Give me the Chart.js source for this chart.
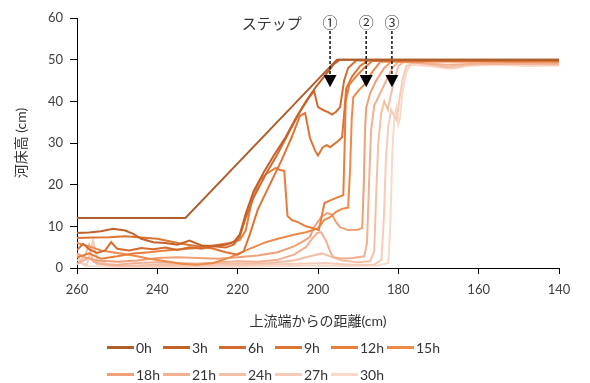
<!DOCTYPE html>
<html>
<head>
<meta charset="utf-8">
<script src="https://cdn.jsdelivr.net/npm/chart.js@4"></script>
<style>
  body { margin: 0; background: #fff; }
  #wrap { position: relative; width: 590px; height: 383px; }
  #legend { position: absolute; left: 107px; top: 334px; font: 14px Lato, 'Noto Sans CJK JP', sans-serif; color: #333; }
  .row { display: flex; height: 27px; align-items: center; }
  .item { display: flex; align-items: center; width: 56px; }
  .item i { display: inline-block; width: 27px; height: 2.5px; margin-right: 2px; }
</style>
</head>
<body>
<div id="wrap">
  <canvas id="bedChart" width="590" height="383"></canvas>
  <div id="legend"></div>
</div>
<script>
// 河床高 (cm) vs 上流端からの距離 (cm), one array per elapsed time
const h0 = [[260,12],[233,12],[195.3,50],[140,50]];
const h3 = [[260,8.4],[257,8.5],[254,8.8],[251,9.4],[248,9],[246,8.2],[244,7],[241,6.2],[238,6],[235,5.6],[232,6.6],[229,5.4],[226,5.3],[223,5.6],[221,6.2],[219.5,8],[218,13],[216,18.5],[213.5,23],[211,27],[208,31.5],[205.5,36],[203,40],[200.5,43.5],[198,46.5],[196,49],[194.5,50],[140,50]];
const h6 = [[260,4.3],[258.5,5.8],[257,4.5],[255,3.6],[253,4.2],[251.5,6.2],[250,4.6],[247,4.2],[244,4.8],[241,4.5],[238,4.9],[235,4.3],[232,5],[229,4.6],[226,5.2],[223,4.9],[221,5.6],[219.5,7.5],[218,12],[216,17],[213,22.5],[210,27.5],[207,33],[204.5,37.5],[202.5,40.5],[201,42.5],[200,38.6],[198.5,37.8],[197.5,37.4],[196.5,36.8],[195.5,37.5],[194.5,38.6],[193.5,45],[192.5,48],[190.5,49.8],[140,49.8]];
const h9 = [[260,7.2],[256,7.3],[252,7.4],[248,7.6],[244,7.3],[240,7],[237,6.4],[234,5.8],[230,5.2],[226,4.6],[223,3.8],[220,3.2],[218.5,4],[217,8],[215,14],[212,20],[209,26],[206.5,31.5],[204.5,36.5],[203.2,37.2],[202,31.2],[200.7,28.1],[200,27],[198.8,29],[197.8,29.5],[197,29],[196.3,29.5],[195,30.5],[194,31.4],[193.4,38],[193,43],[191.5,46],[189.5,48.5],[187.5,49.8],[140,49.8]];
const h12 = [[260,2.5],[257,3.5],[254,2.2],[250,2.8],[246,3.5],[242,3.8],[238,4.2],[234,4.5],[230,4.8],[226,5.4],[222,6],[219.5,6.7],[218,9],[216.5,16],[214.5,21],[213,22.5],[210.5,24],[209.5,23.5],[208.4,23.3],[207.6,12.5],[206.5,11.5],[205,11],[203,10],[201,9.5],[199.8,9.1],[198.4,15.6],[196.8,16.3],[195,17],[193.7,17.5],[193.4,28],[193.1,40],[192.2,44],[190.5,46],[188.5,48],[186.5,49.7],[140,49.7]];
const h15 = [[260,6],[257,5.2],[254,4.2],[250,3.6],[246,3],[242,2.2],[238,1.6],[234,1],[230,0.8],[226,1.2],[222,2.5],[219,3.8],[216,5],[213,6.2],[210,7],[206,8],[203,8.6],[200,9.5],[198.5,11.5],[197,12.2],[195.5,13.5],[194,14.2],[192.5,14.5],[192,24],[191.6,36],[191.2,41],[190,42.5],[188.5,44],[186.5,47],[184.5,49.5],[140,49.6]];
const h18 = [[260,3.5],[258,2.5],[255,1.8],[250,1.5],[245,1.8],[240,2.4],[235,2.6],[230,2.4],[225,2.2],[220,2.6],[215,3],[210,3.8],[206,5.2],[203.5,6.5],[202,7.5],[201,9.8],[199.2,12.2],[197.8,13.2],[196.5,12.8],[195.5,11],[194.5,9.8],[192.5,9.1],[190,9.2],[189,9.6],[188.6,20],[188.3,33],[188,38.5],[187,42],[185.5,45],[183.5,48],[181.5,49.8],[140,49.3]];
const h21 = [[260,1],[257,2.5],[255,1],[250,0.8],[245,1.2],[240,1.4],[235,1.2],[230,1],[225,1.3],[220,1.6],[215,1.5],[210,2],[206,3.2],[203,5],[201.5,7],[200.2,8.4],[199.2,8.6],[198,6.5],[197,4],[196.2,2.6],[194,2.3],[191.4,2.4],[188.5,2.8],[187.8,6],[187.3,20],[186.8,33],[186,39],[184.5,42],[183,45],[181.5,48],[180,49.5],[175,49.2],[168,48.8],[160,49],[140,49]];
const h24 = [[260,0.8],[258,3],[257,5.6],[256,1.5],[253,0.8],[250,0.5],[245,0.6],[240,0.8],[230,1],[220,1],[212,1.2],[206,1.8],[202,2.8],[199,3.5],[197,2.8],[194,1.8],[190,1.4],[187,1.6],[186,4],[185.5,18],[185,30],[184.3,37],[183.5,40],[182.6,38],[182,41],[181,45],[180,48.5],[178.5,49.5],[173,49],[168,48.2],[165,48.6],[160,49],[150,49.2],[140,49]];
const h27 = [[260,3.5],[259,1.2],[257.5,0.8],[256,6.5],[255,2],[252,0.6],[245,0.4],[235,0.5],[225,0.6],[215,0.8],[205,1],[198,1.2],[192,0.8],[186,0.8],[184.2,2],[183.6,12],[183.1,26],[182.5,34],[181.8,38],[181,36.5],[180.4,35.5],[179.8,40],[179,45],[178,48.5],[176,49.2],[170,48.6],[166,48],[162,48.8],[155,49],[140,48.7]];
const h30 = [[260,2],[258,0.5],[255,0.4],[250,0.3],[240,0.2],[230,0.3],[220,0.3],[210,0.4],[200,0.6],[192,0.5],[185,0.6],[182.5,1.2],[182,10],[181.5,28],[181,36],[180.5,38.5],[180,34.5],[179.6,36],[179,42],[178,47],[177,48.8],[172,48.4],[167,47.8],[163,48.5],[155,48.8],[148,48.5],[140,48.6]];

const seriesNames = ['0h', '3h', '6h', '9h', '12h', '15h', '18h', '21h', '24h', '27h', '30h'];
const seriesData = [h0, h3, h6, h9, h12, h15, h18, h21, h24, h27, h30];
const xTicks = [260, 240, 220, 200, 180, 160, 140];
const yTicks = [0, 10, 20, 30, 40, 50, 60];

// step markers ①②③ (distance, cm)
const stepX = [197, 188, 181.6];
const stepLabels = ['①', '②', '③'];

const colors = ['#ad5f2c', '#c2622b', '#d36b2f', '#de7433', '#e77e3c', '#ec8a4a',
                '#f0a077', '#f2b093', '#f4bfa7', '#f6ccb9', '#f8dacb'];
const FONT = "Lato, 'Noto Sans CJK JP', sans-serif";

const stepPlugin = {
    id: 'steps',
    afterDatasetsDraw(chart) {
        const {ctx, chartArea, scales: {x, y}} = chart;
        ctx.save();
        ctx.fillStyle = '#333';
        ctx.textAlign = 'center';
        ctx.textBaseline = 'middle';
        ctx.font = "15px 'Noto Sans CJK JP', sans-serif";
        ctx.fillText('ステップ', x.getPixelForValue(211.5), chartArea.top + 5);
        stepX.forEach((v, i) => {
            const px = x.getPixelForValue(v);
            const tip = y.getPixelForValue(43.4);
            const top = y.getPixelForValue(46.3);
            ctx.fillStyle = '#333';
            ctx.font = "15px 'Noto Sans CJK JP', sans-serif";
            ctx.fillText(stepLabels[i], px, chartArea.top + 4);
            ctx.strokeStyle = '#222';
            ctx.lineWidth = 1.6;
            ctx.setLineDash([3, 2]);
            ctx.beginPath();
            ctx.moveTo(px, chartArea.top + 13);
            ctx.lineTo(px, top);
            ctx.stroke();
            ctx.setLineDash([]);
            ctx.fillStyle = '#000';
            ctx.beginPath();
            ctx.moveTo(px - 6.5, top);
            ctx.lineTo(px + 6.5, top);
            ctx.lineTo(px, tip);
            ctx.closePath();
            ctx.fill();
        });
        ctx.restore();
    }
};

function buildLegend(chart) {
    const legend = document.getElementById('legend');
    const rows = [chart.data.datasets.slice(0, 6), chart.data.datasets.slice(6)];
    rows.forEach(list => {
        const row = document.createElement('div');
        row.className = 'row';
        list.forEach(ds => {
            const item = document.createElement('div');
            item.className = 'item';
            item.innerHTML = `<i style="background:${ds.borderColor}"></i>${ds.label}`;
            row.appendChild(item);
        });
        legend.appendChild(row);
    });
}

const ctx = document.getElementById('bedChart').getContext('2d');
const chart = new Chart(ctx, {
    type: 'line',
    data: {
        datasets: seriesData.map((pts, i) => ({
            label: seriesNames[i],
            data: pts.map(p => ({x: p[0], y: p[1]})),
            borderColor: colors[i],
            backgroundColor: colors[i],
            borderWidth: 2,
            pointRadius: 0,
            tension: 0,
            fill: false
        }))
    },
    options: {
        responsive: false,
        animation: false,
        layout: {padding: {left: 13, right: 31, top: 18, bottom: 50}},
        plugins: {
            legend: {display: false},
            tooltip: {enabled: false}
        },
        scales: {
            x: {
                type: 'linear',
                reverse: true,
                min: 140,
                max: 260,
                afterBuildTicks: s => { s.ticks = xTicks.map(v => ({value: v})); },
                afterFit: s => { s.height = 62; },
                ticks: {color: '#404040', font: {family: FONT, size: 13}, padding: 8, maxRotation: 0},
                grid: {drawOnChartArea: false, drawTicks: true, tickLength: 6, color: '#000'},
                border: {color: '#000', width: 1},
                title: {display: true, text: '上流端からの距離(cm)', color: '#333',
                        font: {family: FONT, size: 14}, padding: 0}
            },
            y: {
                min: 0,
                max: 60,
                afterBuildTicks: s => { s.ticks = yTicks.map(v => ({value: v})); },
                afterFit: s => { s.width = 64; },
                ticks: {color: '#404040', font: {family: FONT, size: 13}, padding: 7},
                grid: {drawOnChartArea: false, drawTicks: true, tickLength: 7, color: '#000'},
                border: {color: '#000', width: 1},
                title: {display: true, text: '河床高 (cm)', color: '#333',
                        font: {family: FONT, size: 14}, padding: 0}
            }
        }
    },
    plugins: [stepPlugin]
});

// keep the plot bottom at the same height after shrinking the x scale box
chart.options.layout.padding.bottom = 53;
chart.update();

buildLegend(chart);
</script>
</body>
</html>
